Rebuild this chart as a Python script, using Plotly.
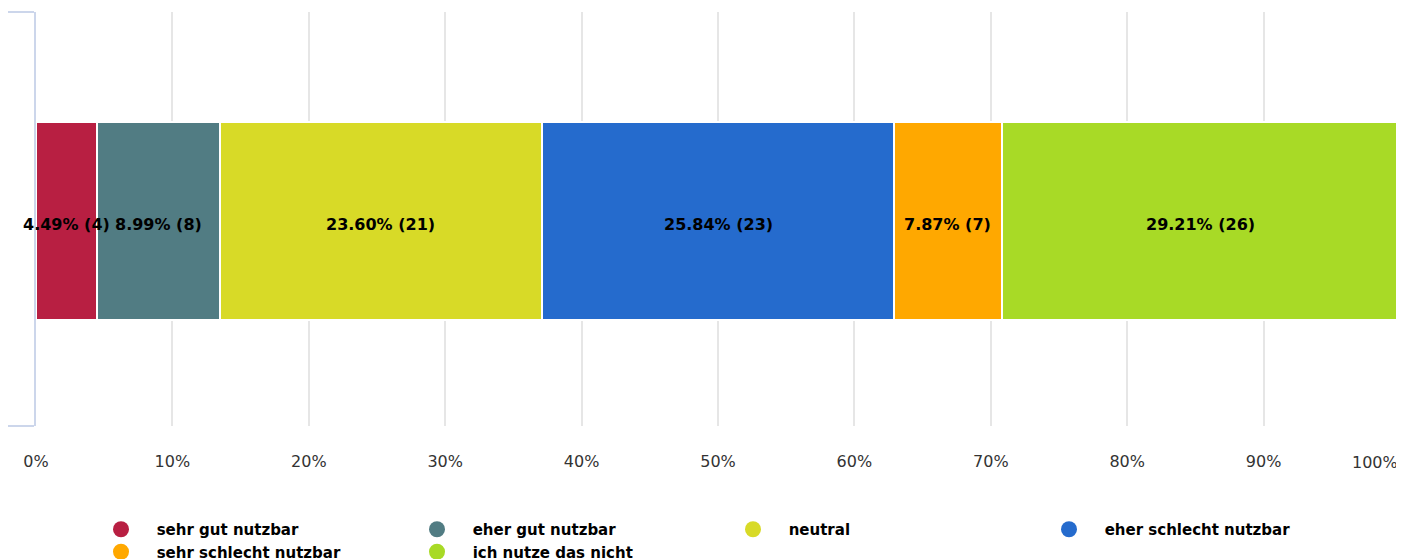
import plotly.graph_objects as go

categories = ["sehr gut nutzbar", "eher gut nutzbar", "neutral",
              "eher schlecht nutzbar", "sehr schlecht nutzbar", "ich nutze das nicht"]
percents = [4.49, 8.99, 23.60, 25.84, 7.87, 29.21]
counts = [4, 8, 21, 23, 7, 26]
colors = ["#B81F42", "#517C83", "#D8DA27", "#256BCD", "#FFA800", "#A8DA26"]
x_ticks = [0, 10, 20, 30, 40, 50, 60, 70, 80, 90, 100]

W, H = 1396, 560
ML, MR, MT, MB = 28, 4, 4, 142
PH = H - MT - MB

fig = go.Figure()
annotations = []
start = 0.0
for name, p, c, col in zip(categories, percents, counts, colors):
    fig.add_trace(go.Bar(
        x=[p], y=[0], orientation="h", width=0.478, offset=-0.243,
        marker=dict(color=col, line=dict(color="#ffffff", width=2)),
        showlegend=False, hoverinfo="skip",
    ))
    fig.add_trace(go.Scatter(
        x=[None], y=[None], mode="markers", name="\u00a0\u00a0\u00a0" + name,
        marker=dict(symbol="circle", size=16, color=col),
    ))
    annotations.append(dict(
        x=start + p / 2, y=-0.013, xref="x", yref="y", text=f"<b>{p:.2f}% ({c})</b>",
        showarrow=False, xanchor="center", yanchor="middle",
        font=dict(family="DejaVu Sans", size=16, color="#000000"),
    ))
    start += p

tick_text = [f"{v}%" for v in x_ticks]
annotations.append(dict(x=x_ticks[-1], xref="x", y=-36 / PH, yref="paper",
                        text=tick_text[-1], showarrow=False, xanchor="right",
                        yanchor="middle", font=dict(size=16, color="#333333")))

fig.update_layout(
    barmode="stack",
    width=W, height=H,
    margin=dict(l=ML, r=MR, t=MT, b=MB, autoexpand=False),
    plot_bgcolor="#ffffff", paper_bgcolor="#ffffff",
    font=dict(family="DejaVu Sans", color="#333333"),
    xaxis=dict(range=[0, 100], tickvals=x_ticks[:-1], ticktext=tick_text[:-1],
               showgrid=True, gridcolor="#e6e6e6", gridwidth=2, zeroline=False,
               ticks="outside", ticklen=21, tickcolor="rgba(0,0,0,0)",
               tickfont=dict(size=16, color="#333333"), showline=False,
               automargin=False),
    yaxis=dict(range=[-0.5, 0.5], tickvals=[-0.5, 0.5], showticklabels=False,
               ticks="outside", ticklen=26, tickwidth=2, tickcolor="#ccd6eb",
               showline=True, linecolor="#ccd6eb", linewidth=2,
               showgrid=False, zeroline=False, automargin=False),
    legend=dict(orientation="h", x=65 / (W - ML - MR), xanchor="left",
                yref="container", y=(H - 505) / H, yanchor="top",
                entrywidth=271, entrywidthmode="pixels", traceorder="normal",
                font=dict(size=15, color="#000000", weight="bold"),
                tracegroupgap=0, itemsizing="trace"),
    shapes=[dict(type="line", xref="x", yref="paper", x0=100, x1=100, y0=0, y1=1,
                 line=dict(color="#e6e6e6", width=2), layer="below")],
    annotations=annotations,
)

fig.write_html("out.html")
